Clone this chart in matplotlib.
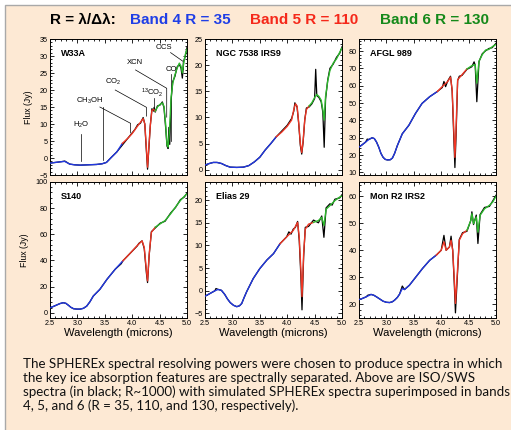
import matplotlib.pyplot as plt
import numpy as np
from matplotlib.patches import Rectangle
from matplotlib.ticker import MultipleLocator

plt.rcParams["font.family"] = ["Liberation Sans", "DejaVu Sans"]
plt.rcParams["mathtext.fontset"] = "custom"
plt.rcParams["mathtext.rm"] = "Liberation Sans"
plt.rcParams["mathtext.default"] = "regular"

# ---- data ----
names = ["W33A", "NGC 7538 IRS9", "AFGL 989", "S140", "Elias 29", "Mon R2 IRS2"]

# simulated SPHEREx spectra (coloured)
w33a_wl = [2.5, 2.6, 2.7, 2.77, 2.86, 2.95, 3.05, 3.2, 3.35, 3.45, 3.53, 3.62, 3.72, 3.82,
           3.92, 4.0, 4.08, 4.15, 4.2, 4.23, 4.255, 4.28, 4.305, 4.33, 4.36, 4.39, 4.42,
           4.46, 4.51, 4.55, 4.58, 4.61, 4.635, 4.655, 4.68, 4.71, 4.74, 4.78, 4.82, 4.86,
           4.89, 4.915, 4.94, 4.97, 5.0]
w33a_fl = [-1.5, -1.3, -1.1, -1.0, -1.8, -2.0, -2.1, -2.0, -1.9, -1.7, -1.3, 0.2, 1.8, 4.3,
           5.8, 7.2, 9.0, 10.5, 11.6, 10.0, 4.0, -2.7, 3.5, 9.5, 14.0, 14.3, 13.8,
           15.0, 15.8, 16.2, 15.2, 10.0, 4.0, 3.2, 8.0, 18.0, 22.0, 24.5, 26.4, 27.9,
           27.0, 25.0, 28.0, 30.5, 32.0]

ngc_wl = [2.5, 2.58, 2.65, 2.72, 2.8, 2.88, 2.96, 3.08, 3.2, 3.3, 3.4, 3.5, 3.6, 3.7, 3.8,
          3.9, 4.0, 4.08, 4.12, 4.15, 4.18, 4.21, 4.24, 4.265, 4.29, 4.32, 4.35, 4.4, 4.45,
          4.5, 4.54, 4.58, 4.62, 4.65, 4.675, 4.7, 4.74, 4.78, 4.84, 4.9, 4.96, 5.0]
ngc_fl = [0.9, 1.2, 1.4, 1.4, 1.2, 0.8, 0.5, 0.45, 0.5, 0.8, 1.5, 2.4, 3.8, 5.0, 6.3,
          7.2, 8.3, 9.5, 11.5, 12.6, 12.2, 9.0, 5.0, 3.3, 5.5, 9.5, 11.5, 12.2, 12.8,
          13.8, 14.4, 14.0, 13.3, 11.5, 9.5, 14.0, 17.0, 19.0, 20.4, 21.2, 22.5, 23.3]

afgl_wl = [2.5, 2.56, 2.62, 2.68, 2.74, 2.78, 2.82, 2.86, 2.9, 2.94, 2.98, 3.02, 3.07, 3.11,
           3.15, 3.2, 3.29, 3.41, 3.53, 3.65, 3.79, 3.93, 4.05, 4.12, 4.17, 4.2, 4.23, 4.25,
           4.27, 4.3, 4.38, 4.47, 4.56, 4.62, 4.65, 4.69, 4.75, 4.81, 4.87, 4.93, 5.0]
afgl_fl = [24.6, 26.0, 27.5, 29.0, 30.0, 29.5, 27.5, 24.6, 21.0, 18.7, 17.5, 17.2, 17.3, 18.3,
           21.0, 25.5, 32.3, 37.2, 44.0, 49.8, 53.7, 56.7, 60.5, 62.5, 65.0, 57.6, 34.3, 18.7,
           34.3, 63.5, 66.4, 69.7, 71.6, 72.2, 61.5, 74.2, 78.0, 80.6, 81.0, 82.5, 83.9]

s140_wl = [2.5, 2.56, 2.62, 2.68, 2.74, 2.79, 2.84, 2.88, 2.93, 2.99, 3.05, 3.11, 3.17, 3.23,
           3.29, 3.41, 3.54, 3.69, 3.83, 3.96, 4.09, 4.18, 4.22, 4.26, 4.28, 4.31, 4.35, 4.42,
           4.51, 4.6, 4.7, 4.79, 4.88, 4.95, 5.0]
s140_fl = [3.8, 4.8, 5.9, 7.0, 7.7, 7.2, 5.6, 4.2, 3.1, 2.8, 2.8, 3.4, 5.1, 8.5,
           12.8, 17.9, 25.6, 33.3, 39.7, 45.4, 51.3, 55.0, 50.0, 32.0, 24.4, 44.9, 61.5, 65.4,
           68.0, 70.5, 75.6, 80.8, 85.9, 89.0, 91.0]

elias_wl = [2.5, 2.56, 2.62, 2.68, 2.74, 2.8, 2.86, 2.91, 2.96, 3.02, 3.08, 3.13, 3.17, 3.21,
            3.26, 3.38, 3.5, 3.63, 3.75, 3.87, 3.99, 4.11, 4.19, 4.22, 4.25, 4.27, 4.3, 4.33,
            4.39, 4.48, 4.57, 4.63, 4.67, 4.71, 4.78, 4.87, 4.96, 5.0]
elias_fl = [-1.2, -0.8, -0.4, 0.0, 0.3, 0.1, -0.8, -1.8, -2.6, -3.2, -3.5, -3.3, -2.8, -1.6,
            -0.2, 2.7, 4.9, 6.8, 8.2, 10.4, 11.9, 13.3, 15.1, 11.8, 4.5, -1.3, 8.2, 13.6,
            14.7, 15.1, 15.5, 16.2, 14.4, 18.0, 18.8, 19.9, 20.7, 20.9]

monr2_wl = [2.5, 2.56, 2.63, 2.72, 2.77, 2.82, 2.88, 2.94, 3.0, 3.06, 3.11, 3.15, 3.2, 3.24,
            3.29, 3.33, 3.42, 3.54, 3.66, 3.79, 3.91, 4.0, 4.05, 4.09, 4.15, 4.18, 4.21, 4.24,
            4.26, 4.29, 4.33, 4.39, 4.47, 4.54, 4.56, 4.59, 4.64, 4.67, 4.71, 4.79, 4.88,
            4.94, 5.0]
monr2_fl = [21.8, 22.2, 22.8, 23.7, 23.4, 22.8, 22.0, 21.2, 20.8, 20.7, 21.0, 21.6, 22.6, 23.8,
            25.9, 25.5, 27.1, 30.2, 33.3, 36.3, 38.2, 40.0, 43.1, 40.0, 41.2, 43.7, 40.0, 29.0,
            20.4, 30.2, 43.7, 46.1, 47.4, 51.0, 53.5, 49.8, 52.3, 46.7, 52.9, 55.3, 56.6,
            57.8, 59.9]

# ISO/SWS spectra (black, R~1000)
w33a_iso_wl = [2.5, 2.6, 2.7, 2.77, 2.86, 2.95, 3.05, 3.2, 3.35, 3.45, 3.53, 3.62, 3.72,
               3.92, 4.05, 4.1, 4.15, 4.2, 4.23, 4.255, 4.28, 4.305, 4.33, 4.36, 4.39, 4.4,
               4.42, 4.46, 4.51, 4.55, 4.58, 4.61, 4.635, 4.655, 4.67, 4.685, 4.71, 4.74,
               4.78, 4.82, 4.86, 4.89, 4.915, 4.94, 4.97, 5.0]
w33a_iso_fl = [-1.5, -1.3, -1.1, -0.9, -1.8, -2.0, -2.1, -2.0, -1.9, -1.7, -1.3, 0.2, 1.8,
               5.8, 8.4, 9.8, 10.2, 11.9, 10.0, 3.0, -3.3, 3.0, 9.5, 14.5, 13.8, 14.9,
               13.5, 15.3, 15.6, 16.5, 14.8, 9.0, 3.5, 2.8, 9.0, 4.0, 17.0, 22.5,
               24.0, 26.8, 27.5, 26.5, 23.5, 28.5, 30.0, 32.5]

ngc_iso_wl = [2.5, 2.58, 2.65, 2.72, 2.8, 2.88, 2.96, 3.08, 3.2, 3.3, 3.4, 3.5, 3.6, 3.7,
              3.8, 4.0, 4.08, 4.12, 4.14, 4.18, 4.21, 4.24, 4.265, 4.29, 4.32, 4.35, 4.4,
              4.45, 4.5, 4.52, 4.54, 4.58, 4.62, 4.65, 4.675, 4.7, 4.74, 4.78, 4.84, 4.9,
              4.96, 5.0]
ngc_iso_fl = [0.9, 1.2, 1.4, 1.4, 1.2, 0.8, 0.5, 0.45, 0.5, 0.8, 1.5, 2.4, 3.8, 5.0,
              6.3, 8.5, 9.8, 11.2, 12.8, 12.0, 8.8, 4.6, 3.0, 5.2, 9.5, 11.8, 12.0,
              12.6, 13.6, 19.2, 14.2, 13.8, 13.0, 11.0, 4.3, 13.5, 17.2, 19.4, 20.2, 21.5,
              22.3, 23.5]

afgl_iso_wl = [2.5, 2.56, 2.62, 2.65, 2.68, 2.74, 2.78, 2.82, 2.86, 2.9, 2.94, 2.98, 3.02,
               3.07, 3.11, 3.15, 3.2, 3.29, 3.41, 3.53, 3.65, 3.79, 3.93, 4.02, 4.05, 4.08,
               4.12, 4.17, 4.2, 4.23, 4.25, 4.27, 4.3, 4.33, 4.38, 4.47, 4.56, 4.6, 4.62,
               4.65, 4.69, 4.75, 4.81, 4.87, 4.93, 5.0]
afgl_iso_fl = [24.6, 26.0, 27.5, 29.2, 29.0, 30.0, 29.5, 27.5, 24.6, 21.0, 18.7, 17.5, 17.2,
               17.3, 18.3, 21.0, 25.5, 32.3, 37.2, 44.0, 49.8, 53.7, 56.7, 59.0, 62.5, 59.5,
               62.8, 65.5, 57.0, 30.0, 12.8, 30.0, 63.0, 65.5, 66.0, 69.5, 71.0, 73.8, 72.0,
               50.8, 74.0, 78.5, 80.2, 81.5, 82.0, 84.5]

s140_iso_wl = [2.5, 2.56, 2.62, 2.68, 2.74, 2.79, 2.84, 2.88, 2.93, 2.99, 3.05, 3.11, 3.17,
               3.23, 3.29, 3.41, 3.54, 3.69, 3.8, 3.83, 4.09, 4.12, 4.18, 4.22, 4.26, 4.28,
               4.31, 4.35, 4.42, 4.51, 4.6, 4.7, 4.79, 4.88, 4.95, 5.0]
s140_iso_fl = [3.8, 4.8, 5.9, 7.0, 7.7, 7.2, 5.6, 4.2, 3.1, 2.8, 2.8, 3.4, 5.1,
               8.5, 12.8, 17.9, 25.6, 33.3, 37.5, 39.7, 51.0, 53.0, 55.0, 49.0, 30.0, 23.1,
               44.0, 62.0, 64.8, 68.5, 70.0, 76.2, 80.5, 86.5, 88.5, 91.5]

elias_iso_wl = [2.5, 2.56, 2.62, 2.68, 2.7, 2.74, 2.8, 2.86, 2.91, 2.96, 3.02, 3.08, 3.13,
                3.17, 3.21, 3.26, 3.38, 3.5, 3.63, 3.75, 3.87, 3.99, 4.03, 4.07, 4.11,
                4.15, 4.19, 4.22, 4.25, 4.27, 4.3, 4.33, 4.39, 4.48, 4.57, 4.63, 4.67,
                4.71, 4.78, 4.82, 4.87, 4.96, 5.0]
elias_iso_fl = [-1.2, -0.8, -0.4, 0.0, 0.5, 0.3, 0.1, -0.8, -1.8, -2.6, -3.2, -3.5, -3.3,
                -2.8, -1.6, -0.2, 2.7, 4.9, 6.8, 8.2, 10.4, 11.9, 13.0, 12.5, 13.6,
                14.0, 15.3, 11.0, 3.0, -4.2, 7.5, 14.0, 14.2, 15.6, 15.0, 16.5, 11.8,
                18.3, 19.2, 18.9, 20.2, 20.5, 21.2]

monr2_iso_wl = [2.5, 2.56, 2.63, 2.66, 2.72, 2.77, 2.82, 2.88, 2.94, 3.0, 3.06, 3.11, 3.15,
                3.2, 3.24, 3.29, 3.33, 3.42, 3.54, 3.66, 3.79, 3.91, 4.0, 4.05, 4.09, 4.15,
                4.18, 4.21, 4.24, 4.26, 4.29, 4.33, 4.39, 4.47, 4.54, 4.56, 4.59, 4.64,
                4.67, 4.71, 4.79, 4.88, 4.94, 5.0]
monr2_iso_fl = [21.8, 22.2, 22.8, 23.4, 23.7, 23.4, 22.8, 22.0, 21.2, 20.8, 20.7, 21.0, 21.6,
                22.6, 23.8, 26.8, 25.5, 27.1, 30.2, 33.3, 36.3, 38.2, 40.0, 45.5, 40.0, 41.2,
                45.2, 40.0, 27.0, 16.9, 28.5, 44.0, 46.5, 47.0, 51.0, 54.2, 49.5, 53.0,
                42.5, 53.2, 55.8, 56.2, 58.2, 60.3]

model_wl = [w33a_wl, ngc_wl, afgl_wl, s140_wl, elias_wl, monr2_wl]
model_fl = [w33a_fl, ngc_fl, afgl_fl, s140_fl, elias_fl, monr2_fl]
iso_wl = [w33a_iso_wl, ngc_iso_wl, afgl_iso_wl, s140_iso_wl, elias_iso_wl, monr2_iso_wl]
iso_fl = [w33a_iso_fl, ngc_iso_fl, afgl_iso_fl, s140_iso_fl, elias_iso_fl, monr2_iso_fl]

ylims = [(-5, 35), (-1, 25), (8.5, 87), (-4, 100), (-6, 24), (15, 65.2)]
y_major = [5, 5, 10, 20, 5, 10]
y_minor = [1, 1, 2, 4, 1, 2]

# W33A ice features
feature_labels = ["H$_2$O", "CH$_3$OH", "CO$_2$", "$^{13}$CO$_2$", "XCN", "CO", "OCS"]

band_edges = [3.8, 4.4]
band_colors = ["#2238e0", "#ee3524", "#2cb82c"]

# ---- figure ----
W, H = 511, 430
fig = plt.figure(figsize=(W / 100, H / 100), dpi=100, facecolor="white")
fig.patches.append(Rectangle((5 / W, -0.1), 1.2, 1.1 - 5 / H, transform=fig.transFigure,
                             facecolor="#fde9d4", edgecolor="#a9a9a9", linewidth=1.0,
                             zorder=-10))

# title
title_parts = [("R = λ/Δλ:", "black", 50), ("Band 4 R = 35", "#1f3ee6", 130),
               ("Band 5 R = 110", "#f5281a", 250), ("Band 6 R = 130", "#15891a", 380)]
for txt, col, x in title_parts:
    fig.text(x / W, 1 - 20 / H, txt, color=col, fontsize=11, fontweight="bold",
             ha="left", va="center")

lefts = [50, 205, 359]
row_tops = [39, 182]
pw, ph = 137, 136


def split_bands(wl, fl):
    wl = np.asarray(wl)
    fl = np.asarray(fl)
    i1 = int(np.searchsorted(wl, band_edges[0]))
    i2 = int(np.searchsorted(wl, band_edges[1]))
    return [(wl[:i1 + 1], fl[:i1 + 1]), (wl[i1:i2 + 1], fl[i1:i2 + 1]), (wl[i2:], fl[i2:])]


axes = []
for k in range(6):
    r, c = divmod(k, 3)
    ax = fig.add_axes([lefts[c] / W, 1 - (row_tops[r] + ph) / H, pw / W, ph / H])
    ax.set_zorder(2)
    axes.append(ax)
    ax.plot(iso_wl[k], iso_fl[k], color="black", lw=0.9, zorder=2)
    for (bw, bf), col in zip(split_bands(model_wl[k], model_fl[k]), band_colors):
        ax.plot(bw, bf, color=col, lw=1.0, zorder=3, solid_joinstyle="round")
    ax.set_xlim(2.5, 5.0)
    ax.set_ylim(*ylims[k])
    ax.xaxis.set_major_locator(MultipleLocator(0.5))
    ax.xaxis.set_minor_locator(MultipleLocator(0.1))
    ax.yaxis.set_major_locator(MultipleLocator(y_major[k]))
    ax.yaxis.set_minor_locator(MultipleLocator(y_minor[k]))
    ax.tick_params(which="both", direction="in", top=True, right=True, labelsize=5.2,
                   width=0.6, pad=1.5)
    ax.tick_params(which="major", length=3)
    ax.tick_params(which="minor", length=1.5)
    for s in ax.spines.values():
        s.set_linewidth(0.7)
    ax.xaxis.set_major_formatter(plt.FuncFormatter(lambda v, p: f"{v:.1f}"))
    if r == 0:
        ax.tick_params(labelbottom=False)
    else:
        ax.set_xlabel("Wavelength (microns)", fontsize=8, labelpad=1)
    if c == 0:
        ax.set_ylabel("Flux (Jy)", fontsize=6.3, labelpad=5)
    ax.text(0.08, 0.89, names[k], transform=ax.transAxes, fontsize=6.5,
            fontweight="bold", ha="left", va="center")

# W33A annotations
ax = axes[0]
lk = dict(color="black", lw=0.5, zorder=1)
ax.plot([3.07, 3.07], [7.0, -0.8], **lk)
ax.text(3.07, 9.6, feature_labels[0], fontsize=5.5, ha="center", va="center")
ax.plot([3.47, 3.47], [15.0, -0.7], **lk)
ax.plot([3.41, 3.97, 3.97], [15.0, 10.2, 7.4], **lk)
ax.text(3.23, 16.8, feature_labels[1], fontsize=5.5, ha="center", va="center")
ax.plot([3.69, 4.26, 4.26], [20.0, 14.9, 12.3], **lk)
ax.text(3.66, 22.5, feature_labels[2], fontsize=5.5, ha="center", va="center")
ax.plot([4.4, 4.4], [17.6, 15.0], **lk)
ax.text(4.37, 19.3, feature_labels[3], fontsize=5.5, ha="center", va="center")
ax.plot([4.06, 4.63, 4.63], [25.9, 20.5, 12.0], **lk)
ax.text(4.04, 28.1, feature_labels[4], fontsize=5.5, ha="center", va="center")
ax.plot([4.7, 4.7], [24.8, 5.0], **lk)
ax.text(4.72, 26.1, feature_labels[5], fontsize=5.5, ha="center", va="center")
ax.plot([4.7, 4.93, 4.93], [31.0, 28.4, 26.0], **lk)
ax.text(4.57, 32.4, feature_labels[6], fontsize=5.5, ha="center", va="center")

caption = ["The SPHEREx spectral resolving powers were chosen to produce spectra in which",
           "the key ice absorption features are spectrally separated. Above are ISO/SWS",
           "spectra (in black; R~1000) with simulated SPHEREx spectra superimposed in bands",
           "4, 5, and 6 (R = 35, 110, and 130, respectively)."]
for i, line in enumerate(caption):
    fig.text(23 / W, 1 - (364 + 14 * i) / H, line, fontsize=9.6, family="Lato",
             ha="left", va="center", color="#111111")

plt.savefig("out.png", dpi=100, facecolor="white")
